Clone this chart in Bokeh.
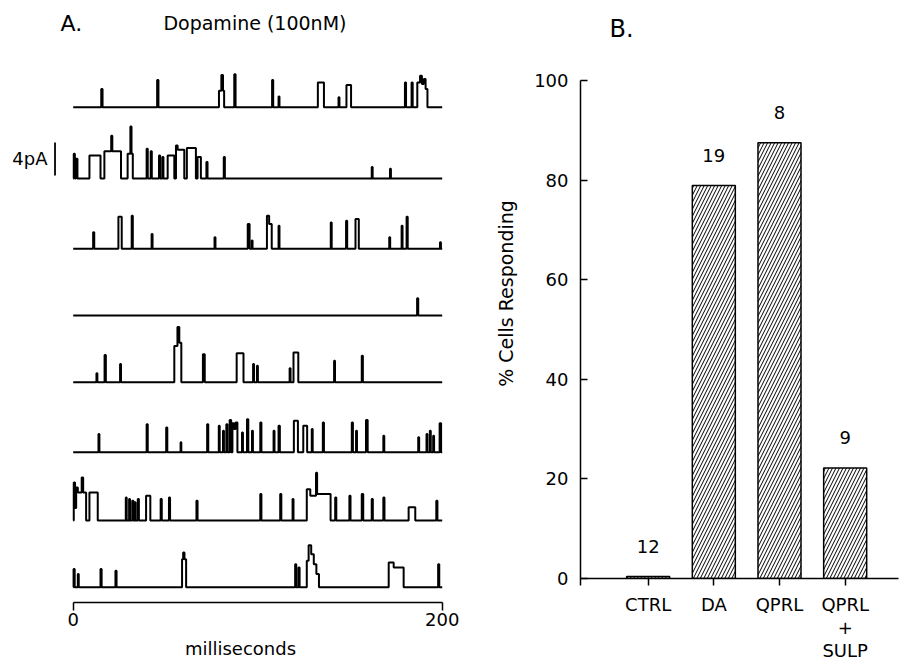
from bokeh.plotting import figure
from bokeh.layouts import row
from bokeh.models import Range1d, FixedTicker
from bokeh.core.properties import value
from bokeh.embed import file_html
from bokeh.resources import INLINE

# ---------------- Panel A data: channel openings (start ms, end ms, amplitude pA) ----------------
trace1_events = [
    (15.2, 15.9, 2.2), (45.5, 46.2, 3.3), (79.0, 80.3, 2.0), (80.3, 81.2, 3.9), (81.2, 81.8, 2.0),
    (87.3, 88.0, 4.0), (107.8, 108.4, 3.3), (111.3, 111.8, 1.3), (132.6, 135.9, 3.0),
    (143.8, 144.3, 1.2), (148.1, 150.6, 2.7), (179.8, 180.4, 3.0), (183.4, 184.0, 3.0),
    (186.5, 188.0, 3.0), (188.0, 189.0, 3.8), (189.0, 190.0, 2.8), (190.0, 191.0, 3.4), (191.0, 192.0, 2.2),
]
trace2_events = [
    (0.3, 0.9, 3.0), (1.5, 2.3, 2.4), (8.8, 14.8, 2.8), (16.9, 20.6, 3.3), (20.6, 21.2, 5.2),
    (21.2, 25.9, 3.3), (29.5, 31.0, 3.0), (31.0, 31.6, 6.3), (31.6, 32.3, 3.0), (39.8, 40.4, 3.6),
    (42.0, 42.6, 3.3), (46.5, 47.1, 2.8), (48.3, 48.9, 2.6), (51.2, 54.8, 2.8), (55.7, 56.6, 4.0),
    (56.6, 60.2, 3.5), (61.6, 66.5, 3.7), (67.4, 69.2, 2.6), (72.2, 72.8, 2.0), (81.6, 82.2, 2.6),
    (161.8, 162.3, 1.4), (171.7, 172.2, 1.2),
]
trace3_events = [
    (10.8, 11.4, 2.0), (24.5, 26.3, 3.9), (31.7, 32.3, 4.0), (42.5, 43.0, 1.8), (76.6, 77.1, 1.4),
    (94.6, 95.6, 3.0), (96.8, 97.2, 1.0), (105.0, 106.2, 4.0), (106.2, 107.6, 3.0), (111.3, 111.8, 2.8),
    (139.6, 140.1, 3.2), (147.9, 148.5, 3.4), (153.0, 154.8, 3.6), (171.3, 171.8, 1.4),
    (178.0, 178.5, 2.8), (180.7, 181.3, 3.9), (198.8, 199.3, 0.8),
]
trace4_events = [
    (186.4, 187.0, 2.1),
]
trace5_events = [
    (12.6, 13.1, 1.1), (17.0, 17.7, 3.3), (25.4, 25.9, 2.2), (54.8, 56.5, 4.4), (56.5, 57.5, 6.7),
    (57.5, 58.6, 4.8), (70.3, 71.3, 3.4), (88.6, 92.3, 3.5), (97.5, 98.0, 2.2), (99.6, 100.1, 2.0),
    (117.3, 117.8, 1.7), (119.4, 122.0, 3.6), (141.4, 141.9, 2.6), (156.4, 157.0, 3.2),
]
trace6_events = [
    (13.7, 14.2, 2.2), (39.8, 40.4, 3.4), (50.4, 51.0, 3.0), (58.2, 58.6, 1.2), (72.6, 73.2, 3.4),
    (78.9, 79.4, 3.2), (81.2, 81.7, 2.6), (83.0, 83.6, 3.4), (84.8, 85.6, 3.9), (86.3, 87.2, 3.5),
    (87.2, 88.0, 2.8), (88.0, 89.0, 3.6), (91.5, 92.0, 2.4), (94.2, 94.9, 4.0), (96.9, 97.4, 2.6),
    (101.4, 102.0, 3.6), (108.6, 109.1, 2.6), (111.3, 112.0, 3.2), (119.6, 121.8, 3.8),
    (124.7, 126.8, 3.2), (129.3, 129.8, 2.8), (135.3, 135.9, 3.6), (151.0, 151.6, 3.6),
    (153.3, 153.8, 2.6), (158.7, 159.6, 3.9), (168.1, 168.6, 2.0), (187.0, 187.5, 1.8),
    (191.5, 192.0, 2.2), (193.3, 193.8, 2.6), (195.1, 195.6, 2.0), (198.6, 199.4, 3.5),
]
trace7_events = [
    (0.3, 1.0, 4.6), (1.0, 1.6, 1.5), (1.6, 2.5, 4.0), (2.5, 4.6, 3.4), (4.6, 5.4, 5.2), (5.4, 7.0, 3.4),
    (8.8, 13.3, 3.4), (28.5, 29.0, 2.8), (30.3, 30.8, 2.6), (32.0, 32.6, 2.4), (33.3, 33.8, 2.2),
    (35.0, 35.6, 2.6), (39.5, 41.8, 3.0), (47.4, 48.0, 2.6), (51.9, 52.5, 2.8), (66.8, 67.4, 2.4),
    (101.4, 102.0, 3.2), (112.2, 112.8, 3.2), (118.9, 119.4, 2.6), (126.6, 128.5, 3.8),
    (128.5, 131.6, 3.0), (131.6, 132.2, 5.8), (132.2, 139.5, 3.2), (142.0, 142.6, 2.8),
    (149.7, 150.3, 3.0), (156.4, 157.2, 3.2), (161.8, 162.4, 2.6), (168.1, 168.7, 2.8),
    (181.8, 185.4, 1.6), (196.8, 197.4, 2.4),
]
trace8_events = [
    (0.2, 0.8, 2.2), (2.5, 3.0, 1.6), (14.8, 15.4, 2.2), (22.9, 23.5, 2.0), (59.0, 59.6, 3.4),
    (59.6, 60.3, 4.2), (60.3, 61.2, 3.4), (120.3, 120.9, 2.8), (122.1, 122.7, 2.4), (126.6, 127.6, 3.2),
    (127.6, 129.0, 5.1), (129.0, 130.4, 4.0), (130.4, 131.8, 2.8), (131.8, 133.2, 1.6),
    (171.0, 173.7, 3.0), (173.7, 179.1, 2.4), (197.8, 198.4, 2.8),
]
record_ms = [0, 200]
scale_bar_pA = 4

# ---------------- Panel B data ----------------
conditions = ["CTRL", "DA", "QPRL", "QPRL\n+\nSULP"]
pct_responding = [0.4, 78.9, 87.5, 22.2]
n_cells = [12, 19, 8, 9]
y_ticks = [0, 20, 40, 60, 80, 100]

# ---------------- layout constants ----------------
FONT = "DejaVu Sans"
trace_baselines = [60.04, 51.39, 42.87, 34.79, 26.70, 18.22, 9.94, 1.85]  # vertical offsets (pA units)


def step_path(events, t0, t1):
    pts = sorted(set([t0, t1] + [e[0] for e in events] + [e[1] for e in events]))
    xs, ys = [], []
    for a, b in zip(pts[:-1], pts[1:]):
        mid = (a + b) / 2.0
        lvl = max([amp for s, e, amp in events if s <= mid < e], default=0.0)
        xs += [a, b]
        ys += [lvl, lvl]
    return xs, ys


# ================= Panel A =================
pA = figure(frame_width=464, frame_height=594,
            x_range=Range1d(-35.07, 216.42), y_range=Range1d(0, 72),
            min_border_left=8, min_border_right=0, min_border_top=8, min_border_bottom=62,
            toolbar_location=None, output_backend="svg", y_axis_location=None)
pA.outline_line_color = None
pA.xgrid.visible = False
pA.ygrid.visible = False

all_events = [trace1_events, trace2_events, trace3_events, trace4_events,
              trace5_events, trace6_events, trace7_events, trace8_events]
for ev, base in zip(all_events, trace_baselines):
    xs, ys = step_path(ev, record_ms[0], record_ms[1])
    pA.line(xs, [base + y for y in ys], line_color="black", line_width=2.0)

# scale bar
pA.segment(x0=[-9.86], y0=[51.76], x1=[-9.86], y1=[51.76 + scale_bar_pA], line_color="black", line_width=1.8)
pA.text(x=[-13.9], y=[51.76 + scale_bar_pA / 2], text=[f"{scale_bar_pA}pA"], text_align="right",
        text_baseline="middle", text_font=value(FONT), text_font_size="18px", text_color="black")
pA.text(x=[-6.9], y=[70.2], text=["A."], text_align="left", text_baseline="middle",
        text_font=value(FONT), text_font_size="22px", text_color="black")
pA.text(x=[98.5], y=[70.2], text=["Dopamine (100nM)"], text_align="center", text_baseline="middle",
        text_font=value(FONT), text_font_size="19px", text_color="black")

ax = pA.xaxis[0]
ax.bounds = (record_ms[0], record_ms[1])
ax.ticker = FixedTicker(ticks=record_ms)
ax.minor_tick_line_color = None
ax.major_tick_in = 0
ax.major_tick_out = 8
ax.major_label_standoff = 2
ax.axis_label = "milliseconds"
ax.axis_label_standoff = 9
ax.axis_label_text_font_style = "normal"
ax.axis_label_text_font = FONT
ax.axis_label_text_font_size = "18px"
ax.axis_label_text_color = "black"
ax.major_label_text_font = FONT
ax.major_label_text_font_size = "18px"
ax.major_label_text_color = "black"
ax.axis_line_width = 1.5
ax.major_tick_line_width = 1.5

# ================= Panel B =================
xs_cat = [1, 2, 3, 4]
pB = figure(frame_width=318, frame_height=570,
            x_range=Range1d(-0.03, 4.812), y_range=Range1d(0, 114.46),
            min_border_left=108, min_border_right=2, min_border_top=8, min_border_bottom=86,
            toolbar_location=None, output_backend="svg")
pB.outline_line_color = None
pB.xgrid.visible = False
pB.ygrid.visible = False

pB.vbar(x=xs_cat, top=pct_responding, bottom=0, width=0.655, fill_color="white",
        line_color="black", line_width=1.5, hatch_pattern="/", hatch_color="black",
        hatch_weight=1, hatch_scale=7)
pB.text(x=xs_cat, y=pct_responding, text=[str(n) for n in n_cells], y_offset=-30,
        text_align="center", text_baseline="middle", text_font=value(FONT),
        text_font_size="18px", text_color="black")
pB.text(x=[0.412], y=[110.4], text=["B."], text_align="left", text_baseline="middle",
        text_font=value(FONT), text_font_size="24px", text_color="black")

ya = pB.yaxis[0]
ya.bounds = (0, 100)
ya.ticker = FixedTicker(ticks=y_ticks)
ya.minor_tick_line_color = None
ya.major_tick_in = 7
ya.major_tick_out = 0
ya.major_label_standoff = 12
ya.axis_label = "% Cells Responding"
ya.axis_label_standoff = 14
ya.axis_label_text_font_style = "normal"
ya.axis_label_text_font = FONT
ya.axis_label_text_font_size = "19px"
ya.axis_label_text_color = "black"
ya.major_label_text_font = FONT
ya.major_label_text_font_size = "18px"
ya.major_label_text_color = "black"
ya.axis_line_width = 1.5
ya.major_tick_line_width = 1.5

xa = pB.xaxis[0]
xa.ticker = FixedTicker(ticks=[-0.03] + xs_cat)
xa.major_label_overrides = {**{-0.03: ""}, **{x: c for x, c in zip(xs_cat, conditions)}}
xa.minor_tick_line_color = None
xa.major_tick_in = 0
xa.major_tick_out = 7
xa.major_label_standoff = 8
xa.major_label_text_font = FONT
xa.major_label_text_font_size = "18px"
xa.major_label_text_color = "black"
xa.major_label_text_line_height = 1.1
xa.axis_line_width = 1.5
xa.major_tick_line_width = 1.5

layout = row(pA, pB)
open("out.html", "w").write(file_html(layout, INLINE))
